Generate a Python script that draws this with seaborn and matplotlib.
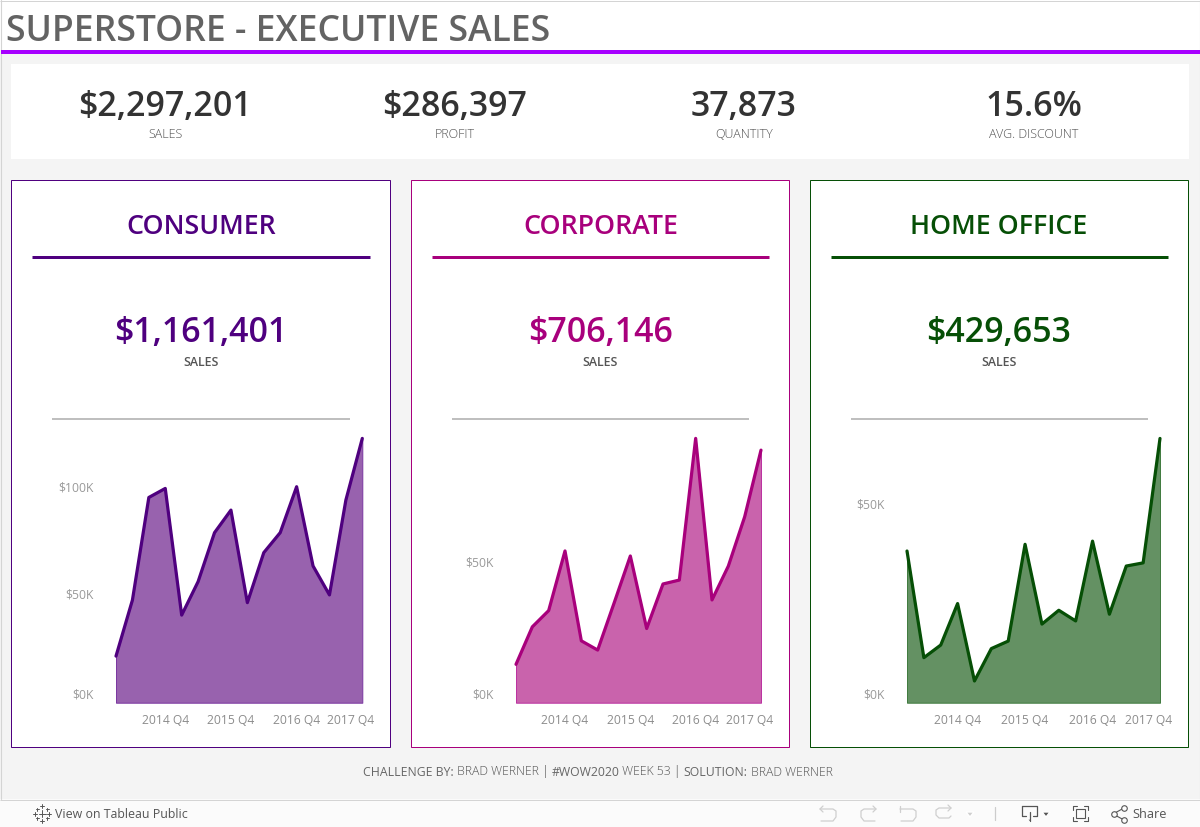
import matplotlib
matplotlib.use("Agg")
import matplotlib.pyplot as plt
from matplotlib.patches import Rectangle, Polygon
from matplotlib.transforms import ScaledTranslation
import pandas as pd
import seaborn as sns

W, H = 1200, 827

quarters = ["2014 Q1", "2014 Q2", "2014 Q3", "2014 Q4", "2015 Q1", "2015 Q2", "2015 Q3", "2015 Q4",
            "2016 Q1", "2016 Q2", "2016 Q3", "2016 Q4", "2017 Q1", "2017 Q2", "2017 Q3", "2017 Q4"]
consumer_sales = [21.7, 47.8, 95.6, 99.8, 40.8, 56.4, 79.2, 89.7, 46.6, 69.9, 79.2, 100.6, 63.7, 50.2, 94.4, 123.1]
corporate_sales = [13.7, 27.1, 32.9, 54.2, 22.1, 18.8, 35.5, 52.4, 26.5, 42.4, 43.8, 94.4, 36.7, 48.8, 66.4, 90.2]
home_office_sales = [38.4, 11.4, 14.6, 25.1, 5.5, 13.7, 15.6, 40.1, 19.9, 23.4, 20.7, 40.9, 22.4, 34.6, 35.4, 66.9]

segments = ["CONSUMER", "CORPORATE", "HOME OFFICE"]
segment_totals = ["$1,161,401", "$706,146", "$429,653"]
kpi_values = ["$2,297,201", "$286,397", "37,873", "15.6%"]
kpi_labels = ["SALES", "PROFIT", "QUANTITY", "AVG. DISCOUNT"]
x_ticks = ["2014 Q4", "2015 Q4", "2016 Q4", "2017 Q4"]

FONT = "Open Sans"
sns.set_theme(style="white")
plt.rcParams["font.family"] = [FONT, "DejaVu Sans"]

fig = plt.figure(figsize=(W / 100, H / 100), dpi=100, facecolor="#f4f4f4")
bg = fig.add_axes([0, 0, 1, 1], zorder=0)
bg.set_xlim(0, W)
bg.set_ylim(H, 0)
bg.axis("off")


def box(x0, y0, x1, y1, fc, ec="none", lw=0):
    bg.add_patch(Rectangle((x0, y0), x1 - x0, y1 - y0, facecolor=fc, edgecolor=ec, linewidth=lw))


def hline(x0, x1, y, color, px):
    bg.plot([x0, x1], [y, y], color=color, lw=px * 0.72, solid_capstyle="butt")


def label(x, y, s, size, color, weight="normal", ha="center"):
    return bg.text(x, y, s, fontsize=size, color=color, fontweight=weight, ha=ha, va="center")


# page frame and header
box(0, 0, W, 50, "white")
hline(0, W, 0.5, "#d4d4d4", 1)
bg.plot([0.5, 0.5], [0, 799], color="#d4d4d4", lw=0.8)
bg.plot([1199.5, 1199.5], [0, 799], color="#d4d4d4", lw=0.8)
label(6, 32, "SUPERSTORE - EXECUTIVE SALES", 25.6, "#636363", "semibold", ha="left")
hline(1, W, 51.5, "#a700ff", 4)

# KPI strip
box(11, 64, 1189, 159, "white")
for cx, val, name in zip([165, 455, 744, 1034], kpi_values, kpi_labels):
    label(cx, 107.5, val, 24.5, "#333333", "semibold")
    label(cx, 135, name, 9.0, "#555555", "light")

# segment cards
cards = [
    dict(vals=consumer_sales, left=11, right=391, line=(32, 370), grey=(52, 350), plot=(116, 362.3),
         scale=2.147, ticks=[0, 50, 100], dark="#4f007f", fill="#9862ae", edge="#7a35a0", cx=201),
    dict(vals=corporate_sales, left=411, right=790, line=(432, 769), grey=(452, 749), plot=(516, 761),
         scale=2.8, ticks=[0, 50], dark="#a8007c", fill="#c963ac", edge="#bb30a0", cx=600.5),
    dict(vals=home_office_sales, left=810, right=1189, line=(831, 1168), grey=(851, 1148), plot=(907, 1160),
         scale=3.95, ticks=[0, 50], dark="#064f06", fill="#649163", edge="#3f7a3e", cx=999),
]

TOP, BASE = 420.0, 702.7

for name, total, c in zip(segments, segment_totals, cards):
    box(c["left"] - 0.5, 179.5, c["right"] - 1, 746.5, "white", c["dark"], 0.72)
    label(c["cx"], 227, name, 19.3, c["dark"], "semibold")
    hline(c["line"][0], c["line"][1], 256.5, c["dark"], 3)
    label(c["cx"], 333.5, total, 24.5, c["dark"], "semibold")
    label(c["cx"], 362.5, "SALES", 8.9, "#555555", "semibold")
    hline(c["grey"][0], c["grey"][1], 419, "#bfbfbf", 2)

    x0, x1 = c["plot"]
    ax = fig.add_axes([x0 / W, 1 - BASE / H, (x1 - x0) / W, (BASE - TOP) / H], zorder=2)
    ax.patch.set_alpha(0)
    df = pd.DataFrame({"quarter": quarters, "sales": c["vals"]})
    df["idx"] = range(len(df))
    ax.fill_between(df["idx"], 0, df["sales"], facecolor=c["fill"], edgecolor=c["edge"], linewidth=0.7,
                    clip_on=False, zorder=1)
    sns.lineplot(data=df, x="idx", y="sales", ax=ax, color=c["dark"], linewidth=2.3, clip_on=False, zorder=2)
    ax.set_xlim(0, len(quarters) - 1)
    ax.set_ylim(0, (BASE - TOP) / c["scale"])
    ax.set_xlabel("")
    ax.set_ylabel("")
    sns.despine(ax=ax, left=True, bottom=True)
    tick_pos = [quarters.index(q) for q in x_ticks]
    ax.set_xticks(tick_pos, x_ticks)
    ax.set_yticks(c["ticks"], ["$%dK" % t for t in c["ticks"]])
    ax.tick_params(axis="both", length=0, labelsize=8.75, labelcolor="#999999")
    ax.tick_params(axis="x", pad=8, labelcolor="#8c8c8c")
    ax.tick_params(axis="y", pad=16)
    # Tableau nudges the end labels back inside the pane
    last = ax.get_xticklabels()[-1]
    last.set_transform(last.get_transform() + ScaledTranslation(-11.5 / 100, 0, fig.dpi_scale_trans))
    for i, tl in enumerate(ax.get_yticklabels()):
        up = 9 if i == 0 else 1.5
        tl.set_transform(tl.get_transform() + ScaledTranslation(0, up / 100, fig.dpi_scale_trans))

# footer credit, mixed weights laid out one after the other
pieces = [("CHALLENGE BY:", "normal", "#666666"), (" BRAD WERNER | ", "light", "#555555"),
          ("#WOW2020", "normal", "#666666"), (" WEEK 53 | ", "light", "#555555"),
          ("SOLUTION:", "normal", "#666666"), (" BRAD WERNER", "light", "#555555")]
fig.canvas.draw()
renderer = fig.canvas.get_renderer()
xpos = 363
for s, weight, col in pieces:
    t = bg.text(xpos, 772, s.replace(" ", "\u00a0"), fontsize=8.85, color=col, fontweight=weight, ha="left", va="center")
    xpos += t.get_window_extent(renderer).width

# Tableau Public toolbar
box(0, 799, W, H, "#fbfbfb")
hline(0, W, 799.5, "#d4d4d4", 1)
label(55, 814, "View on Tableau Public", 8.95, "#555555", "normal", ha="left")
label(1132, 814, "Share", 9.2, "#555555", "normal", ha="left")

# logo made of small plus signs
for px, py, r in [(42, 813.5, 3.5), (37, 809, 1.5), (47, 809, 1.5), (37, 818, 1.5), (47, 818, 1.5),
                  (42, 806, 2), (42, 821, 2), (35, 813.5, 2), (49, 813.5, 2)]:
    bg.plot([px - r, px + r], [py, py], color="#555555", lw=0.7)
    bg.plot([px, px], [py - r, py + r], color="#555555", lw=0.7)

light = "#cfcfcf"
for xs, ys in [([820, 833, 836, 836, 833, 821], [809, 809, 811, 817, 821, 821]),
               ([876, 864, 861, 861, 864, 875], [809, 809, 811, 817, 821, 821]),
               ([900, 913, 916, 916, 913, 901], [809, 809, 811, 817, 821, 821]),
               ([951, 939, 936, 936, 939, 949, 951], [808, 808, 810, 815, 818, 818, 816])]:
    bg.plot(xs, ys, color=light, lw=0.9)
bg.plot([900, 900], [806, 812], color=light, lw=0.9)
for ax_, ay in [(820, 809), (876, 809), (951, 808)]:
    d = 3 if ax_ > 860 else -3
    bg.plot([ax_ - d, ax_, ax_ - d], [ay - 3, ay, ay + 3], color=light, lw=0.9)
bg.add_patch(Polygon([(966, 812), (974, 812), (970, 817)], facecolor=light))
bg.plot([995, 995], [807, 820], color="#cccccc", lw=0.9)

dark = "#555555"
bg.plot([1022, 1037, 1037, 1033], [806, 806, 816, 816], color=dark, lw=0.9)
bg.plot([1022, 1022, 1026], [806, 816, 816], color=dark, lw=0.9)
bg.plot([1029.5, 1029.5], [812, 821], color=dark, lw=0.9)
bg.add_patch(Polygon([(1027, 819), (1032, 819), (1029.5, 822)], facecolor=dark))
bg.add_patch(Polygon([(1042, 812), (1050, 812), (1046, 817)], facecolor=dark))
bg.add_patch(Rectangle((1076, 809), 9, 9, facecolor="none", edgecolor=dark, linewidth=0.8))
for cx_, cy_, dx, dy in [(1073, 806, 1, 1), (1088, 806, -1, 1), (1073, 821, 1, -1), (1088, 821, -1, -1)]:
    bg.plot([cx_ + 4 * dx, cx_, cx_], [cy_, cy_, cy_ + 4 * dy], color=dark, lw=0.8)
bg.plot([1124, 1113, 1124], [808, 814, 820], color=dark, lw=0.8)
bg.scatter([1114, 1124, 1124], [814, 808, 820], s=16, facecolor="#fbfbfb", edgecolor=dark, linewidth=0.8, zorder=3)

fig.savefig("out.png", dpi=100, facecolor=fig.get_facecolor())
